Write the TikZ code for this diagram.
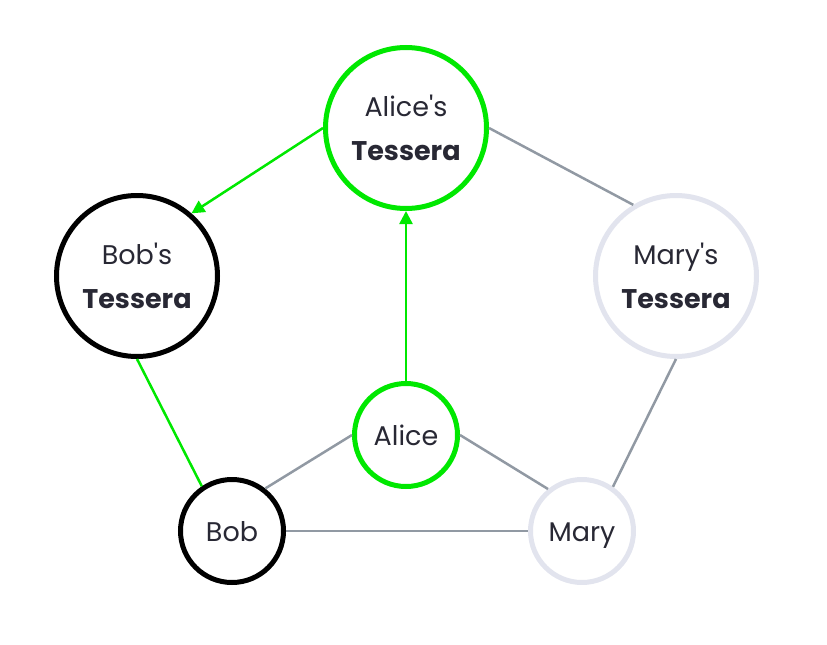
\documentclass[tikz,border=0pt]{standalone}
\usepackage{fontspec}
\setmainfont{Poppins}[Ligatures=TeXOff]
\usetikzlibrary{arrows.meta}
\definecolor{tgreen}{RGB}{0,232,0}
\definecolor{tgrey}{RGB}{145,153,163}
\definecolor{tpale}{RGB}{226,228,238}
\definecolor{tink}{RGB}{40,40,52}
\begin{document}
\begin{tikzpicture}[x=1pt,y=-1pt,
    tessera/.style={circle,draw,line width=5pt,minimum size=161pt,fill=white,
        align=center,text=tink,font=\fontsize{27}{44}\selectfont},
    person/.style={circle,draw,line width=5pt,minimum size=103pt,fill=white,
        text=tink,text height=20pt,text depth=0pt,font=\fontsize{27}{30}\selectfont},
    owns/.style={tgreen,line width=2.5pt},
    knows/.style={tgrey,line width=2.5pt},
    trust/.style={owns,-{Triangle[length=13pt,width=13pt]}}]
    \useasboundingbox (0,0) rectangle (827,645);

    \node[tessera,draw=tgreen] (at) at (406,128) {Alice's\\\textbf{Tessera}};
    \node[tessera,draw=black]  (bt) at (137,276) {Bob's\\\textbf{Tessera}};
    \node[tessera,draw=tpale]  (mt) at (676,276) {Mary's\\\textbf{Tessera}};

    \node[person,draw=tgreen] (a) at (406,435) {Alice};
    \node[person,draw=black]  (b) at (232,531) {Bob};
    \node[person,draw=tpale]  (m) at (582,531) {Mary};

    \draw[trust] (at.west) -- (bt.49);
    \draw[trust] (a.north) -- (at.south);
    \draw[owns] (bt.south) -- (b.124);

    \draw[knows] (at.east) -- (mt.121);
    \draw[knows] (mt.south) -- (m.55);
    \draw[knows] (b.52) -- (a.west);
    \draw[knows] (a.east) -- (m.129);
    \draw[knows] (b.east) -- (m.west);
\end{tikzpicture}
\end{document}
